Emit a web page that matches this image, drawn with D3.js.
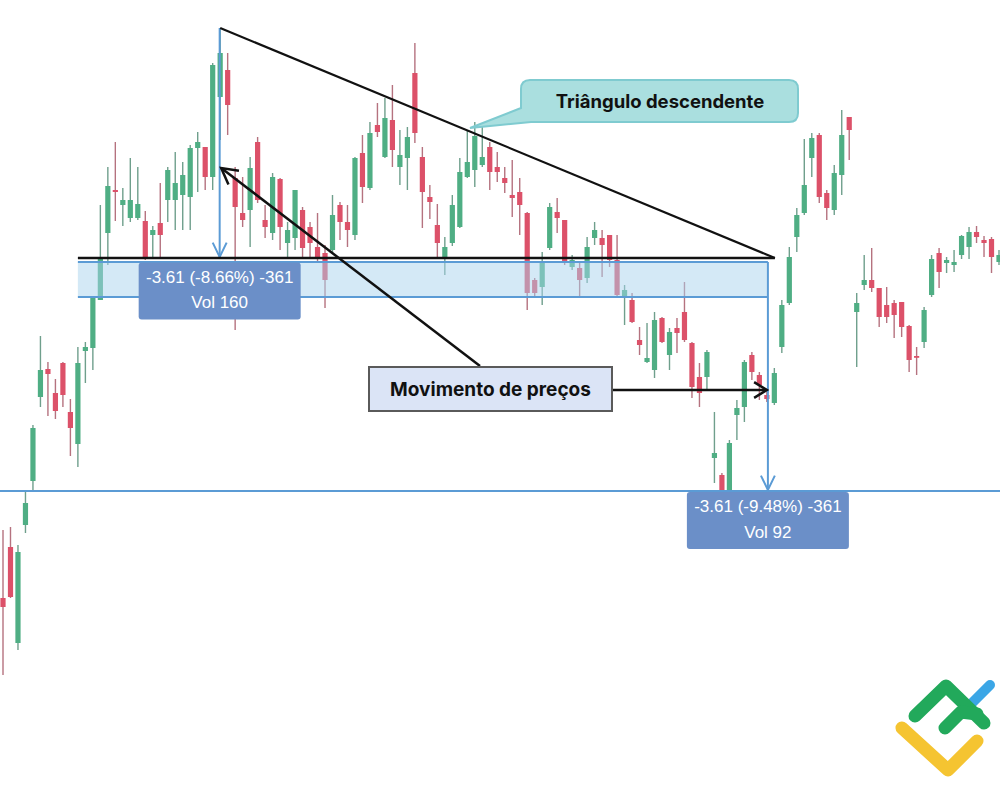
<!DOCTYPE html>
<html><head><meta charset="utf-8">
<script src="https://cdn.jsdelivr.net/npm/d3@7"></script>
<style>html,body{margin:0;padding:0;background:#fff;} svg{display:block;}</style>
</head><body>
<svg id="chart" width="1000" height="785"></svg>
<script>
// ---- data (price units) ----
const open = [20.2,25.3,15.7,27.5,31.9,40.3,43.1,40.7,43.7,38.8,
35.6,44.9,45.2,50.0,56.7,61.0,59.5,58.2,58.2,57.9,
56.5,57.7,60.0,60.0,60.5,60.3,65.2,65.3,62.3,70.3,
73.0,62.2,58.7,59.0,65.8,58.0,56.7,62.1,55.7,56.2,
59.0,57.3,55.3,54.7,55.0,59.5,57.8,56.5,64.7,61.2,
67.5,64.3,68.0,63.3,64.2,72.7,64.3,60.3,57.5,54.2,
55.7,57.3,62.3,63.0,63.5,65.3,63.3,62.2,60.5,60.8,
58.7,52.0,51.3,55.2,58.8,58.0,53.3,53.2,52.2,56.2,
56.2,56.5,54.0,50.3,50.0,46.0,43.8,43.0,48.2,44.5,
47.2,48.8,45.7,42.3,42.3,34.2,32.5,30.8,38.5,39.3,
44.5,42.5,40.5,39.7,45.3,49.7,56.3,58.7,64.2,66.5,
60.7,59.0,62.5,68.3,48.8,51.5,52.0,51.2,49.5,49.7,
49.8,47.4,44.4,45.8,50.5,54.7,53.7,53.5,54.5,55.3,
56.8,56.0,56.1,53.8];
const high = [27.0,27.3,25.5,30.8,37.5,46.4,43.8,42.1,43.8,40.1,
45.3,45.8,50.3,59.5,63.3,65.8,61.2,64.2,63.3,58.9,
57.4,61.7,63.3,64.8,63.8,65.5,66.8,65.3,73.7,77.2,
74.7,63.3,62.3,64.3,66.3,59.5,62.7,62.2,57.8,61.0,
59.3,57.8,58.7,55.5,60.5,59.8,59.5,64.3,66.5,67.8,
69.7,70.2,71.5,67.0,67.3,75.7,65.3,61.5,59.6,56.3,
60.5,64.2,67.0,67.8,67.5,65.8,64.8,63.3,64.0,62.2,
58.8,52.2,54.8,59.7,60.2,58.0,54.5,53.7,56.3,57.8,
57.0,56.5,56.5,51.5,50.7,47.3,47.7,48.8,48.3,47.2,
48.2,51.8,45.8,43.7,45.0,38.8,32.7,36.0,40.0,44.0,
44.8,42.8,40.8,43.2,50.0,55.3,59.2,66.1,66.7,66.7,
61.0,63.5,69.0,68.3,50.7,54.5,55.2,51.2,51.3,50.0,
49.8,47.5,45.3,49.3,54.5,55.2,54.3,55.0,56.5,57.3,
57.4,56.4,56.3,55.0];
const low = [12.5,20.2,15.0,26.7,30.8,39.3,38.4,38.1,39.3,34.4,
33.3,41.7,43.0,50.0,53.5,57.9,57.4,57.8,58.0,54.0,
54.2,54.2,57.8,57.0,57.0,57.0,60.8,61.0,61.0,66.0,
66.5,47.0,57.3,55.3,59.7,56.2,56.0,55.0,54.2,55.0,
54.2,54.2,53.8,49.2,54.7,56.0,55.3,56.0,59.7,61.0,
66.3,64.2,63.3,61.5,61.0,65.7,57.2,58.1,54.2,52.5,
55.4,57.2,62.2,61.3,63.3,61.0,61.8,60.7,58.3,56.5,
49.0,50.2,49.5,55.0,56.7,53.5,53.0,50.3,51.7,55.5,
52.3,53.3,50.3,47.5,47.7,44.5,43.7,42.2,45.7,43.0,
44.7,45.8,40.2,39.3,41.0,31.7,30.8,30.5,36.0,37.8,
42.0,40.0,39.8,39.5,44.7,49.5,54.8,58.5,62.3,59.7,
58.0,58.5,60.5,64.0,43.3,51.0,50.8,47.3,47.7,46.2,
46.3,42.8,42.5,45.2,50.3,51.2,52.7,52.8,54.1,54.1,
55.7,54.3,52.7,53.5];
const close = [19.3,20.3,24.8,29.7,37.2,43.0,42.6,38.9,40.5,37.2,
43.7,45.3,50.2,54.2,61.4,60.8,60.0,60.0,59.6,54.2,
57.0,56.5,63.0,61.7,62.5,65.2,65.8,62.3,73.5,74.7,
69.5,59.3,58.0,63.2,60.0,57.3,62.3,57.3,57.0,61.0,
55.2,55.7,54.2,52.0,58.5,57.8,57.0,64.2,61.3,66.7,
66.8,68.2,65.0,64.5,66.3,66.7,60.8,59.8,55.7,55.3,
59.5,62.8,63.8,66.4,64.3,62.8,62.8,61.7,60.2,59.5,
50.7,50.7,53.7,59.3,58.2,53.8,54.0,52.0,55.3,57.0,
55.5,54.0,50.5,51.0,47.8,45.5,44.2,48.0,45.8,46.8,
46.7,46.0,41.3,40.7,44.8,34.7,31.0,35.7,39.2,43.8,
42.8,41.5,40.1,42.7,49.5,54.3,58.5,61.5,66.2,60.3,
59.2,62.7,66.5,67.0,49.7,52.0,51.2,48.3,48.3,48.5,
47.3,44.0,44.3,49.0,54.1,52.8,54.0,53.8,56.4,56.8,
56.3,55.7,54.3,54.5];
const sessions = open.map((_, i) => i);           // candle order (categories)

// annotation levels (price units) and anchors (session positions)
const resistance = 54.2, bandTop = 53.8, bandBottom = 50.3, support = 30.9;
const peakSession = 29, peakPrice = 77.2, bandStart = 10, measureSession = 102.14, apexSession = 103.07;
const labelTexts = [["-3.61 (-8.66%) -361", "Vol 160"], ["-3.61 (-9.48%) -361", "Vol 92"]];
const calloutText = "Triângulo descendente";
const moveText = "Movimento de preços";

// ---- scales ----
const W = 1000, H = 785;
const x = d3.scaleLinear().domain([0, sessions.length - 1]).range([3, 999]);
const y = d3.scaleLinear().domain([80, 1.5]).range([0, H]);

const svg = d3.select("#chart");
svg.append("rect").attr("width", W).attr("height", H).attr("fill", "#fff");

const upCol = "#4fae84", downCol = "#dc5169", upWick = "#6f9f8c", downWick = "#b5727f";
const data = sessions.map(i => ({ i, o: open[i], h: high[i], l: low[i], c: close[i] }));

const cg = svg.append("g");
cg.selectAll("line").data(data).join("line")
  .attr("x1", d => x(d.i)).attr("x2", d => x(d.i))
  .attr("y1", d => y(d.h)).attr("y2", d => y(d.l))
  .attr("stroke", d => d.c >= d.o ? upWick : downWick).attr("stroke-width", 1.4);
cg.selectAll("rect").data(data).join("rect")
  .attr("x", d => x(d.i) - 2.6).attr("width", 5.2)
  .attr("y", d => y(Math.max(d.o, d.c)))
  .attr("height", d => Math.max(1.8, Math.abs(y(d.o) - y(d.c))))
  .attr("fill", d => d.c >= d.o ? upCol : downCol);

const blue = "#5b9bd5";
// band
svg.append("rect").attr("x", x(bandStart)).attr("y", y(bandTop))
  .attr("width", x(measureSession) - x(bandStart)).attr("height", y(bandBottom) - y(bandTop))
  .attr("fill", "#a9d3ed").attr("opacity", 0.5);
[bandTop, bandBottom].forEach(p => svg.append("line")
  .attr("x1", x(bandStart)).attr("x2", x(measureSession)).attr("y1", y(p)).attr("y2", y(p))
  .attr("stroke", blue).attr("stroke-width", 2));

// support line
svg.append("line").attr("x1", 0).attr("x2", W).attr("y1", y(support)).attr("y2", y(support))
  .attr("stroke", blue).attr("stroke-width", 2);

function head(tx, ty, fx, fy, len, ang) {
  const a = Math.atan2(fy - ty, fx - tx);
  const p1 = [tx + len * Math.cos(a + ang), ty + len * Math.sin(a + ang)];
  const p2 = [tx + len * Math.cos(a - ang), ty + len * Math.sin(a - ang)];
  return `M${p1[0]},${p1[1]} L${tx},${ty} L${p2[0]},${p2[1]}`;
}

// measure verticals
const v1x = x(peakSession) - 0.5, v2x = x(measureSession);
svg.append("line").attr("x1", v1x).attr("x2", v1x).attr("y1", y(peakPrice)).attr("y2", y(resistance))
  .attr("stroke", blue).attr("stroke-width", 2);
svg.append("path").attr("d", head(v1x, y(resistance) - 1, v1x, 0, 16, 0.45))
  .attr("fill", "none").attr("stroke", blue).attr("stroke-width", 2);
svg.append("line").attr("x1", v2x).attr("x2", v2x).attr("y1", y(bandTop)).attr("y2", y(support))
  .attr("stroke", blue).attr("stroke-width", 2);
svg.append("path").attr("d", head(v2x, y(support) - 1, v2x, 0, 16, 0.45))
  .attr("fill", "none").attr("stroke", blue).attr("stroke-width", 2);

// triangle lines
svg.append("line").attr("x1", x(peakSession)).attr("y1", y(peakPrice))
  .attr("x2", x(apexSession)).attr("y2", y(resistance)).attr("stroke", "#111").attr("stroke-width", 2.2);
svg.append("line").attr("x1", x(bandStart)).attr("y1", y(resistance))
  .attr("x2", x(apexSession)).attr("y2", y(resistance)).attr("stroke", "#111").attr("stroke-width", 2.4);

// measure labels
const boxFill = "#6b8fc8";
[[v1x, y(bandTop) + 0.5], [v2x, y(support) + 1]].forEach(([cx, top], k) => {
  svg.append("rect").attr("x", cx - 81).attr("y", top).attr("width", 162).attr("height", 57)
    .attr("rx", 3).attr("fill", boxFill);
  labelTexts[k].forEach((t, j) => svg.append("text").attr("x", cx).attr("y", top + 20 + j * 25.5)
    .attr("text-anchor", "middle").attr("fill", "#fff")
    .attr("font-family", "'Liberation Sans', Arial, sans-serif").attr("font-size", 17).text(t));
});

// black arrows
const a1 = { fx: 480, fy: 366, tx: x(peakSession) + 1, ty: 168 };
svg.append("line").attr("x1", a1.fx).attr("y1", a1.fy).attr("x2", a1.tx).attr("y2", a1.ty)
  .attr("stroke", "#111").attr("stroke-width", 2.5);
svg.append("path").attr("d", head(a1.tx, a1.ty, a1.fx, a1.fy, 18, 0.5))
  .attr("fill", "none").attr("stroke", "#111").attr("stroke-width", 2.5);
const a2 = { fx: 612, fy: 390, tx: v2x - 1, ty: 390 };
svg.append("line").attr("x1", a2.fx).attr("y1", a2.fy).attr("x2", a2.tx).attr("y2", a2.ty)
  .attr("stroke", "#111").attr("stroke-width", 2.5);
svg.append("path").attr("d", head(a2.tx, a2.ty, a2.fx, a2.fy, 15, 0.55))
  .attr("fill", "none").attr("stroke", "#111").attr("stroke-width", 2.5);

// "Movimento de preços" box
svg.append("rect").attr("x", 369).attr("y", 367).attr("width", 243).attr("height", 44)
  .attr("fill", "#dbe4f6").attr("stroke", "#5a5a5a").attr("stroke-width", 2);
svg.append("text").attr("x", 490.5).attr("y", 396).attr("text-anchor", "middle")
  .attr("font-family", "Inter, 'Noto Sans', sans-serif").attr("font-weight", 700)
  .attr("font-size", 19).attr("fill", "#111").text(moveText);

// callout
svg.append("path")
  .attr("d", "M530,80 H789 Q798,80 798,89 V113 Q798,122 789,122 H531 L470,128 L521,108 V89 Q521,80 530,80 Z")
  .attr("fill", "#aadfdf").attr("stroke", "#7fcbd0").attr("stroke-width", 2);
svg.append("text").attr("x", 660).attr("y", 108).attr("text-anchor", "middle")
  .attr("font-family", "Inter, 'Noto Sans', sans-serif").attr("font-weight", 700)
  .attr("font-size", 18.5).attr("fill", "#111").text(calloutText);

// logo
const logo = svg.append("g").attr("fill", "none").attr("stroke-linecap", "round").attr("stroke-linejoin", "round");
logo.append("path").attr("d", "M972,703 L990,685").attr("stroke", "#3ba6e6").attr("stroke-width", 10);
logo.append("path").attr("d", "M902,728 L948,770 L977,741").attr("stroke", "#f5c431").attr("stroke-width", 13);
logo.append("path").attr("d", "M915,716 L946,686 L984,723").attr("stroke", "#22a95b").attr("stroke-width", 13);
logo.append("path").attr("d", "M945,728 L961,712 L977,714").attr("stroke", "#22a95b").attr("stroke-width", 13);
</script>
</body></html>
